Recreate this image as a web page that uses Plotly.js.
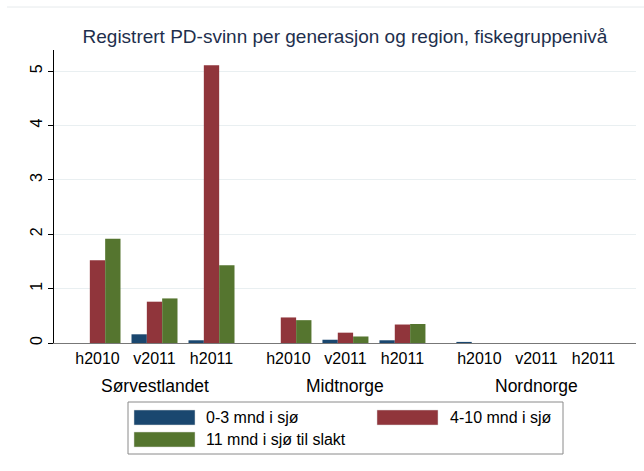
<!DOCTYPE html>
<html>
<head>
<meta charset="utf-8">
<script src="https://cdn.plot.ly/plotly-3.0.1.min.js"></script>
<style>html,body{margin:0;padding:0;background:#fff;}#chart{width:644px;height:471px;}</style>
</head>
<body>
<div id="chart"></div>
<script>
// ---- data ----
var regions = ["Sørvestlandet", "Midtnorge", "Nordnorge"];
var generations = ["h2010", "v2011", "h2011"];
var seriesNames = ["0-3 mnd i sjø", "4-10 mnd i sjø", "11 mnd i sjø til slakt"];
var seriesColors = ["#1a476f", "#90353b", "#55752f"];
// values listed region by region, generation by generation
var val_0_3   = [0.00, 0.16, 0.05,   0.00, 0.06, 0.05,   0.02, 0.00, 0.00];
var val_4_10  = [1.52, 0.76, 5.11,   0.47, 0.19, 0.34,   0.00, 0.00, 0.00];
var val_11    = [1.92, 0.82, 1.43,   0.42, 0.12, 0.35,   0.00, 0.00, 0.00];
var title = "Registrert PD-svinn per generasjon og region, fiskegruppenivå";

// ---- layout helpers ----
var W = 644, H = 471;
var M = {l: 54, r: 8, t: 50, b: 128};
var PW = W - M.l - M.r, PH = H - M.t - M.b;
var regionStep = 3.35; // spacing between region blocks, in generation slots
function pos(r, g) { return r * regionStep + g; }
function px(x) { return (x - M.l) / PW; }
function py(y) { return (H - M.b - y) / PH; }

var xs = [], tickText = [];
regions.forEach(function (r, ri) {
  generations.forEach(function (g, gi) {
    xs.push(pos(ri, gi));
    tickText.push(g);
  });
});

var allVals = [val_0_3, val_4_10, val_11];
var traces = allVals.map(function (v, i) {
  return {
    type: "bar",
    x: xs,
    y: v,
    name: seriesNames[i],
    marker: {color: seriesColors[i]},
    showlegend: false,
    hoverinfo: "y+name"
  };
});

var font = "Arial, 'Liberation Sans', sans-serif";
var annotations = regions.map(function (r, ri) {
  return {
    text: r, x: pos(ri, 1), xref: "x", y: 0, yref: "paper",
    yshift: -43, showarrow: false, xanchor: "center", yanchor: "middle",
    font: {family: font, size: 17.5, color: "#000"}
  };
});

// manual legend (Stata style)
var shapes = [
  {type: "line", xref: "paper", yref: "paper", x0: px(7), x1: px(644), y0: py(7), y1: py(7),
   line: {color: "#e6eaec", width: 1}},
  {type: "rect", xref: "paper", yref: "paper", x0: px(128), x1: px(563), y0: py(402), y1: py(454),
   line: {color: "#8a8a8a", width: 1}, fillcolor: "rgba(0,0,0,0)"}
];
var legItems = [
  {sx: 134, tx: 204, y: 417.5},
  {sx: 377, tx: 448, y: 417.5},
  {sx: 134, tx: 204, y: 439.5}
];
legItems.forEach(function (it, i) {
  shapes.push({type: "rect", xref: "paper", yref: "paper",
    x0: px(it.sx), x1: px(it.sx + 61), y0: py(it.y - 7.5), y1: py(it.y + 7.5),
    line: {color: "#d8d8d8", width: 0.5}, fillcolor: seriesColors[i]});
  annotations.push({text: seriesNames[i], xref: "paper", yref: "paper",
    x: px(it.tx), y: py(it.y), xanchor: "left", yanchor: "middle", showarrow: false,
    font: {family: font, size: 16, color: "#000"}});
});

var layout = {
  width: W, height: H,
  margin: M,
  paper_bgcolor: "#fff", plot_bgcolor: "#fff",
  font: {family: font, color: "#000"},
  title: {text: title, x: 345 / W, xanchor: "center", xref: "container",
          y: 1 - 36 / H, yanchor: "middle", yref: "container",
          font: {family: font, size: 19, color: "#1e2f4d"}},
  barmode: "group", bargap: 0.193, bargroupgap: 0,
  showlegend: false,
  xaxis: {
    range: [(M.l - 97.5) / 57, (W - M.r - 97.5) / 57],
    tickvals: xs, ticktext: tickText, ticks: "",
    showgrid: false, zeroline: false,
    showline: true, linecolor: "#777", linewidth: 1.3,
    tickfont: {family: font, size: 16, color: "#000"}
  },
  yaxis: {
    range: [0, 5.39],
    tickvals: [0, 1, 2, 3, 4, 5],
    tickangle: -90,
    ticks: "outside", ticklen: 5, tickcolor: "#000", tickwidth: 1,
    showline: true, linecolor: "#000", linewidth: 1,
    showgrid: true, gridcolor: "#e9eff1", gridwidth: 1,
    zeroline: false,
    tickfont: {family: font, size: 16, color: "#000"}
  },
  annotations: annotations,
  shapes: shapes
};

Plotly.newPlot("chart", traces, layout, {displayModeBar: false, staticPlot: true});
</script>
</body>
</html>
